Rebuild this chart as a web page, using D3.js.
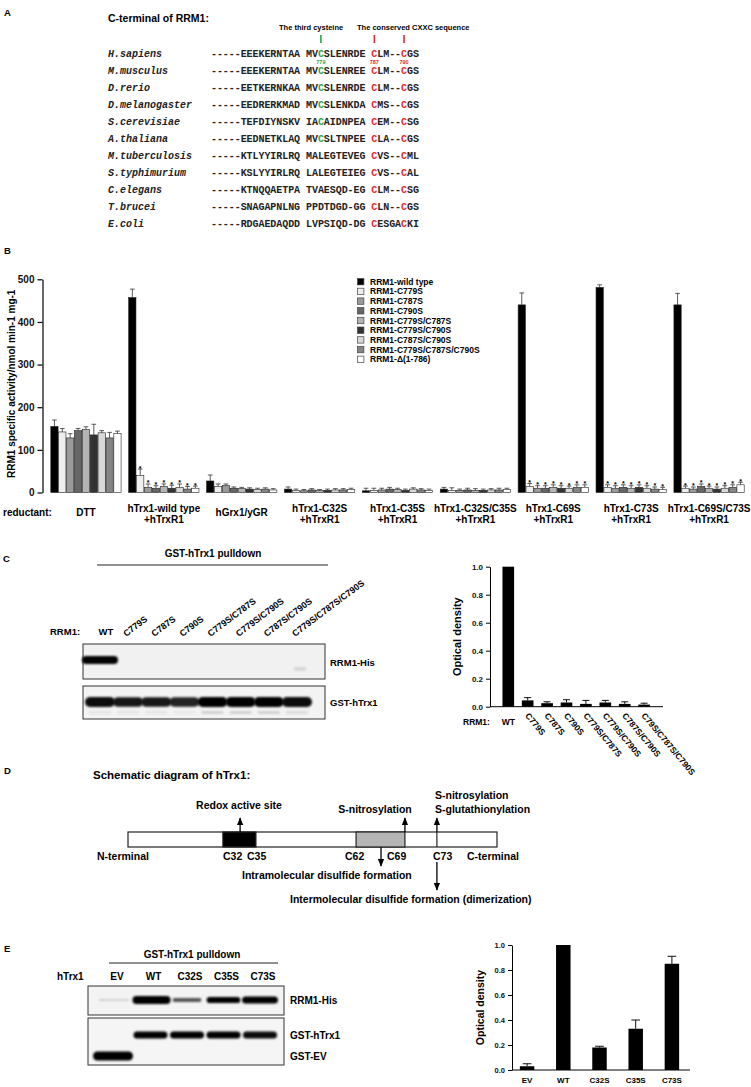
<!DOCTYPE html>
<html><head><meta charset="utf-8">
<script src="https://cdn.jsdelivr.net/npm/d3@7"></script>
<style>
body{margin:0;background:#fff;}
svg{display:block;font-family:"Liberation Sans",Arial,sans-serif;font-weight:bold;}
</style></head><body>
<svg id="fig" width="751" height="1087"></svg>
<script>
// ---------------- Panel A data ----------------
const species = ["H.sapiens","M.musculus","D.rerio","D.melanogaster","S.cerevisiae","A.thaliana","M.tuberculosis","S.typhimurium","C.elegans","T.brucei","E.coli"];
const sequences = [
 "-----EEEKERNTAA MVCSLENRDE CLM--CGS",
 "-----EEEKERNTAA MVCSLENREE CLM--CGS",
 "-----EETKERNKAA MVCSLENRDE CLM--CGS",
 "-----EEDRERKMAD MVCSLENKDA CMS--CGS",
 "-----TEFDIYNSKV IACAIDNPEA CEM--CSG",
 "-----EEDNETKLAQ MVCSLTNPEE CLA--CGS",
 "-----KTLYYIRLRQ MALEGTEVEG CVS--CML",
 "-----KSLYYIRLRQ LALEGTEIEG CVS--CAL",
 "-----KTNQQAETPA TVAESQD-EG CLM--CSG",
 "-----SNAGAPNLNG PPDTDGD-GG CLN--CGS",
 "-----RDGAEDAQDD LVPSIQD-DG CESGACKI"
];
const greenPos = [18];
const redPos = [27, 32];
const residueNums = [["779",18,"#2aa84a"],["787",27,"#e8262b"],["790",32,"#e8262b"]];

// ---------------- Panel B data ----------------
const reductants = [["DTT"],["hTrx1-wild type","+hTrxR1"],["hGrx1/yGR"],["hTrx1-C32S","+hTrxR1"],["hTrx1-C35S","+hTrxR1"],["hTrx1-C32S/C35S","+hTrxR1"],["hTrx1-C69S","+hTrxR1"],["hTrx1-C73S","+hTrxR1"],["hTrx1-C69S/C73S","+hTrxR1"]];
const rrm1Variants = ["RRM1-wild type","RRM1-C779S","RRM1-C787S","RRM1-C790S","RRM1-C779S/C787S","RRM1-C779S/C790S","RRM1-C787S/C790S","RRM1-C779S/C787S/C790S","RRM1-Δ(1-786)"];
const variantFill = ["#000000","#eeeeee","#9a9a9a","#666666","#b4b4b4","#333333","#d8d8d8","#858585","#ffffff"];
// rows = reductant, columns = RRM1 variant
const activityMean = [
 [155,142,128,145,148,135,140,128,138],
 [457,40,12,10,14,10,12,8,10],
 [27,14,16,10,9,8,7,8,6],
 [8,5,4,6,5,5,6,6,7],
 [4,5,6,8,7,5,8,6,5],
 [8,5,5,6,5,5,6,6,7],
 [440,14,10,10,12,10,10,12,12],
 [481,12,10,12,10,12,10,8,7],
 [440,10,8,14,10,8,10,12,18]
];
const activityErr = [
 [15,8,10,5,6,25,5,13,6],
 [20,15,8,6,6,7,8,6,5],
 [14,6,4,3,3,3,3,3,3],
 [5,3,3,3,2,3,3,3,3],
 [6,5,4,4,3,3,3,3,3],
 [4,6,3,4,4,3,3,4,3],
 [28,7,6,6,6,6,5,6,6],
 [6,6,6,6,6,6,6,5,5],
 [27,5,5,6,5,5,6,6,6]
];
const starredGroups = [1,6,7,8];
const activityTicks = [0,100,200,300,400,500];

// ---------------- Panel C data ----------------
const cLanes = ["WT","C779S","C787S","C790S","C779S/C787S","C779S/C790S","C787S/C790S","C779S/C787S/C790S"];
const cBarLabels = ["WT","C779S","C787S","C790S","C779S/C787S","C779S/C790S","C787S/C790S","C79S/C787S/C790S"];
const cRRM1Band = [1,0,0,0,0,0,0,0.12];
const cGSTBand = [0.95,0.9,0.9,0.85,1,1,1,0.95];
const cGSTLower = [0.15,0.15,0.15,0.1,0.35,0.35,0.35,0.25];
const cDensity = [1.0,0.045,0.025,0.03,0.02,0.03,0.02,0.015];
const cDensityErr = [0,0.02,0.01,0.02,0.025,0.015,0.015,0.01];
const densityTicks = [0,0.2,0.4,0.6,0.8,1.0];

// ---------------- Panel D data ----------------
const trxLength = 105;
const activeSite = [27,36.4];
const grayRegion = [64.9,78.8];
const c73Pos = 87.9;
const redoxArrowPos = 31.9;
const intraArrowPos = 72.0;

// ---------------- Panel E data ----------------
const eLanes = ["EV","WT","C32S","C35S","C73S"];
const eRRM1Band = [0.04,1,0.35,0.7,0.85];
const eGSTBand = [0,1,1,1,0.95];
const eEVBand = [1,0,0,0,0];
const eDensity = [0.03,1.0,0.18,0.33,0.85];
const eDensityErr = [0.02,0,0.01,0.07,0.06];

// =================================================
const svg = d3.select("#fig");
const defs = svg.append("defs");
defs.append("filter").attr("id","blur").attr("x","-30%").attr("y","-100%").attr("width","160%").attr("height","300%")
  .append("feGaussianBlur").attr("stdDeviation",0.8);
defs.append("marker").attr("id","arr").attr("viewBox","0 0 10 8").attr("refX",9).attr("refY",4)
  .attr("markerWidth",8).attr("markerHeight",7).attr("markerUnits","userSpaceOnUse").attr("orient","auto")
  .append("path").attr("d","M0,0 L10,4 L0,8 Z").attr("fill","#000");

// panel letters
[["A",4,16],["B",4,254],["C",3,562],["D",4,774],["E",4,952]].forEach(([t,x,y])=>
  svg.append("text").attr("x",x).attr("y",y).attr("font-size",9.5).text(t));

// ---------------- Panel A ----------------
const gA = svg.append("g");
gA.append("text").attr("x",108).attr("y",22).attr("font-size",10.5).text("C-terminal of RRM1:");
gA.append("text").attr("x",279).attr("y",29.5).attr("font-size",7.5).text("The third cysteine");
gA.append("text").attr("x",357).attr("y",29.5).attr("font-size",7.5).text("The conserved CXXC sequence");
const charW = 5.94;
const xSeq = d3.scaleLinear().domain([0,1]).range([211,211+charW]);
const rowY = d3.scaleLinear().domain([0,1]).range([56.8,73.8]);
gA.append("line").attr("x1",xSeq(18.5)).attr("x2",xSeq(18.5)).attr("y1",35).attr("y2",43).attr("stroke","#2aa84a").attr("stroke-width",1.6);
redPos.forEach(p=>gA.append("line").attr("x1",xSeq(p+0.5)).attr("x2",xSeq(p+0.5)).attr("y1",35).attr("y2",43).attr("stroke","#e8262b").attr("stroke-width",1.6));
const monoFont = "'Liberation Mono','Courier New',monospace";
species.forEach((sp,i)=>{
  gA.append("text").attr("x",108).attr("y",rowY(i)).attr("font-family",monoFont)
    .attr("font-style","italic").attr("font-size",10).attr("fill","#222").text(sp);
  const seq = sequences[i];
  gA.selectAll(null).data(seq.split("").map((c,j)=>({c,j}))).join("text")
    .attr("x",d=>xSeq(d.j+0.5)).attr("y",rowY(i)).attr("text-anchor","middle")
    .attr("font-family",monoFont).attr("font-size",10)
    .attr("fill",d=> d.c==="C" && redPos.includes(d.j) ? "#e8262b" : (d.c==="C" && greenPos.includes(d.j) ? "#2aa84a" : "#222"))
    .text(d=>d.c);
});
residueNums.forEach(([t,p,col])=>gA.append("text").attr("x",xSeq(p+0.5)).attr("y",63.5).attr("text-anchor","middle")
  .attr("font-size",5.5).attr("fill",col).text(t));

// ---------------- Panel B ----------------
const gB = svg.append("g");
const yB = d3.scaleLinear().domain([0,500]).range([492.5,279.3]);
const xB = d3.scaleBand().domain(d3.range(reductants.length)).range([47,748]).paddingInner(0.09).paddingOuter(0.045);
const xBi = d3.scaleBand().domain(d3.range(rrm1Variants.length)).range([0,xB.bandwidth()]);
const axB = gB.append("g").attr("transform","translate(42.5,0)")
  .call(d3.axisLeft(yB).tickValues(activityTicks).tickSize(5).tickSizeOuter(0).tickFormat(d3.format("d")));
axB.select(".domain").attr("stroke","#000").attr("stroke-width",1.2);
axB.selectAll(".tick line").attr("stroke","#000").attr("stroke-width",1.2);
axB.selectAll("text").attr("font-size",10).attr("font-family","'Liberation Sans',Arial,sans-serif").attr("font-weight","bold").attr("fill","#111");
gB.append("text").attr("transform","translate(15,"+yB(255)+") rotate(-90)").attr("text-anchor","middle").attr("font-size",10)
  .text("RRM1 specific activity/nmol min-1 mg-1");
const barData = [];
activityMean.forEach((row,g)=>row.forEach((v,s)=>barData.push({g,s,v,e:activityErr[g][s]})));
const gBars = gB.selectAll(null).data(barData).join("g")
  .attr("transform",d=>`translate(${xB(d.g)+xBi(d.s)},0)`);
const bw = xBi.bandwidth();
gBars.append("line").attr("x1",bw/2).attr("x2",bw/2).attr("y1",d=>yB(d.v)).attr("y2",d=>yB(d.v+d.e)).attr("stroke","#333").attr("stroke-width",0.8);
gBars.append("line").attr("x1",bw*0.2).attr("x2",bw*0.8).attr("y1",d=>yB(d.v+d.e)).attr("y2",d=>yB(d.v+d.e)).attr("stroke","#333").attr("stroke-width",0.8);
gBars.append("rect").attr("x",0.3).attr("width",bw-0.6).attr("y",d=>yB(d.v)).attr("height",d=>yB(0)-yB(d.v))
  .attr("fill",d=>variantFill[d.s]).attr("stroke","#222").attr("stroke-width",0.6);
gBars.filter(d=>starredGroups.includes(d.g) && d.s>0).append("text").attr("x",bw/2).attr("y",d=>yB(d.v+d.e)+1.5)
  .attr("text-anchor","middle").attr("font-size",7).text("*");
// legend
const lg = gB.append("g");
rrm1Variants.forEach((n,i)=>{
  const y = 281.7 + i*9.7;
  lg.append("rect").attr("x",357.5).attr("y",y-3.2).attr("width",6.4).attr("height",6.4).attr("fill",variantFill[i]).attr("stroke","#444").attr("stroke-width",0.7);
  lg.append("text").attr("x",370).attr("y",y+3).attr("font-size",8.5).text(n);
});
gB.append("text").attr("x",3).attr("y",515.5).attr("font-size",10).text("reductant:");
reductants.forEach((lines,g)=>{
  const cx = xB(g)+xB.bandwidth()/2;
  lines.forEach((t,k)=>gB.append("text").attr("x",cx).attr("y",(lines.length===1?515.5:511.5+k*11)).attr("text-anchor","middle").attr("font-size",10).text(t));
});

// ---------------- Panel C (blots) ----------------
const gC = svg.append("g");
function band(g,cx,cy,w,h,col,op){
  g.append("rect").attr("x",cx-w/2).attr("y",cy-h/2).attr("width",w).attr("height",h).attr("rx",h/2).attr("ry",h/2)
   .attr("fill",col).attr("opacity",op).attr("filter","url(#blur)");
}
gC.append("text").attr("x",213).attr("y",557).attr("text-anchor","middle").attr("font-size",10).text("GST-hTrx1 pulldown");
gC.append("line").attr("x1",97).attr("x2",328).attr("y1",565).attr("y2",565).attr("stroke","#222").attr("stroke-width",1);
const xCL = d3.scalePoint().domain(cLanes).range([100,297]);
gC.append("text").attr("x",50).attr("y",635).attr("font-size",9.5).text("RRM1:");
cLanes.forEach((l,i)=>{
  if(i===0) gC.append("text").attr("x",xCL(l)+6).attr("y",635).attr("text-anchor","middle").attr("font-size",9.5).text(l);
  else gC.append("text").attr("transform",`translate(${xCL(l)-2},637) rotate(-37)`).attr("font-size",9).text(l);
});
gC.append("rect").attr("x",83).attr("y",644).attr("width",242).attr("height",35).attr("fill","#f1f1f1").attr("stroke","#333").attr("stroke-width",1);
gC.append("rect").attr("x",83).attr("y",686).attr("width",242).attr("height",33).attr("fill","#f3f3f3").attr("stroke","#333").attr("stroke-width",1);
cLanes.forEach((l,i)=>{
  if(cRRM1Band[i]>0) band(gC,xCL(l)+(i===0?0:3),660+(i===0?0:9),36*Math.sqrt(cRRM1Band[i]),7*Math.sqrt(cRRM1Band[i])+1,"#000",cRRM1Band[i]);
  band(gC,xCL(l),702,30,6+4*cGSTBand[i],"#000",cGSTBand[i]);
  band(gC,xCL(l),712.5,22,2,"#666",cGSTLower[i]);
});
gC.append("text").attr("x",330).attr("y",666).attr("font-size",9.5).text("RRM1-His");
gC.append("text").attr("x",330).attr("y",706).attr("font-size",9.5).text("GST-hTrx1");

// ---------------- Panel C (chart) ----------------
const gC2 = svg.append("g");
const yC = d3.scaleLinear().domain([0,1]).range([706.7,566.7]);
const xC = d3.scaleBand().domain(cBarLabels).range([494.7,657.7]).padding(0.4);
const axC = gC2.append("g").attr("transform","translate(490,0)")
  .call(d3.axisLeft(yC).tickValues(densityTicks).tickSize(4).tickSizeOuter(0).tickFormat(d3.format(".1f")));
axC.selectAll(".domain,.tick line").attr("stroke","#000").attr("stroke-width",1);
axC.selectAll("text").attr("font-size",8).attr("font-family","'Liberation Sans',Arial,sans-serif").attr("font-weight","bold").attr("fill","#111");
gC2.append("line").attr("x1",490).attr("x2",663).attr("y1",yC(0)).attr("y2",yC(0)).attr("stroke","#000").attr("stroke-width",1);
gC2.append("text").attr("transform",`translate(461,${yC(0.5)}) rotate(-90)`).attr("text-anchor","middle").attr("font-size",11).text("Optical density");
const cbw = xC.bandwidth();
cBarLabels.forEach((l,i)=>{
  const x = xC(l);
  const v = cDensity[i], e = cDensityErr[i];
  if(e>0){
    gC2.append("line").attr("x1",x+cbw/2).attr("x2",x+cbw/2).attr("y1",yC(v)).attr("y2",yC(v+e)).attr("stroke","#111").attr("stroke-width",1);
    gC2.append("line").attr("x1",x+cbw*0.2).attr("x2",x+cbw*0.8).attr("y1",yC(v+e)).attr("y2",yC(v+e)).attr("stroke","#111").attr("stroke-width",1);
  }
  gC2.append("rect").attr("x",x).attr("y",yC(v)).attr("width",cbw).attr("height",yC(0)-yC(v)).attr("fill","#000");
  if(i===0) gC2.append("text").attr("x",x+cbw/2).attr("y",725).attr("text-anchor","middle").attr("font-size",8.5).text(l);
  else gC2.append("text").attr("transform",`translate(${x+cbw/2-3},716) rotate(50)`).attr("font-size",8.5).text(l);
});
gC2.append("text").attr("x",463).attr("y",725).attr("font-size",8.5).text("RRM1:");

// ---------------- Panel D ----------------
const gD = svg.append("g");
const xD = d3.scaleLinear().domain([0,trxLength]).range([128,497]);
gD.append("text").attr("x",93).attr("y",779).attr("font-size",11.5).text("Schematic diagram of hTrx1:");
gD.append("rect").attr("x",xD(0)).attr("y",832).attr("width",xD(trxLength)-xD(0)).attr("height",15).attr("fill","#fff").attr("stroke","#222").attr("stroke-width",1.2);
gD.append("rect").attr("x",xD(activeSite[0])).attr("y",832).attr("width",xD(activeSite[1])-xD(activeSite[0])).attr("height",15).attr("fill","#000").attr("stroke","#222").attr("stroke-width",1.2);
gD.append("rect").attr("x",xD(grayRegion[0])).attr("y",832).attr("width",xD(grayRegion[1])-xD(grayRegion[0])).attr("height",15).attr("fill","#b5b5b5").attr("stroke","#222").attr("stroke-width",1.2);
gD.append("line").attr("x1",xD(c73Pos)).attr("x2",xD(c73Pos)).attr("y1",832).attr("y2",847).attr("stroke","#222").attr("stroke-width",1.2);
function arrow(x,y1,y2){
  const dir = y2>y1 ? 1 : -1;
  gD.append("line").attr("x1",x).attr("x2",x).attr("y1",y1).attr("y2",y2-dir*1).attr("stroke","#000").attr("stroke-width",1.3).attr("marker-end","url(#arr)");
}
arrow(xD(redoxArrowPos),832,817);
arrow(xD(grayRegion[1]),832,817);
arrow(xD(c73Pos),832,817);
arrow(xD(intraArrowPos),847,867);
arrow(xD(c73Pos),862,891);
const dTxt = [
 ["Redox active site",239,809,"middle"],
 ["S-nitrosylation",375,813,"middle"],
 ["S-nitrosylation",435,799,"start"],
 ["S-glutathionylation",435,813,"start"],
 ["N-terminal",97,860,"start"],
 ["C32",223,860,"start"],
 ["C35",247,860,"start"],
 ["C62",345,860,"start"],
 ["C69",387,860,"start"],
 ["C73",433,860,"start"],
 ["C-terminal",467,860,"start"],
 ["Intramolecular disulfide formation",242,879,"start"],
 ["Intermolecular disulfide formation (dimerization)",290,903,"start"]
];
dTxt.forEach(([t,x,y,a])=>gD.append("text").attr("x",x).attr("y",y).attr("text-anchor",a).attr("font-size",10.5).text(t));

// ---------------- Panel E (blots) ----------------
const gE = svg.append("g");
gE.append("text").attr("x",192).attr("y",958).attr("text-anchor","middle").attr("font-size",10).text("GST-hTrx1 pulldown");
gE.append("line").attr("x1",109).attr("x2",278).attr("y1",963).attr("y2",963).attr("stroke","#222").attr("stroke-width",1);
const xEL = d3.scalePoint().domain(eLanes).range([117,263]);
gE.append("text").attr("x",57).attr("y",980).attr("font-size",10).text("hTrx1");
eLanes.forEach(l=>gE.append("text").attr("x",xEL(l)).attr("y",980).attr("text-anchor","middle").attr("font-size",10).text(l));
gE.append("rect").attr("x",88).attr("y",986).attr("width",196).attr("height",29).attr("fill","#f3f3f3").attr("stroke","#333").attr("stroke-width",1);
gE.append("rect").attr("x",88).attr("y",1018).attr("width",196).attr("height",47).attr("fill","#f5f5f5").attr("stroke","#333").attr("stroke-width",1);
eLanes.forEach((l,i)=>{
  const r = eRRM1Band[i];
  if(i===0) band(gE,xEL(l)-3,1000,30,2,"#333",0.18);
  else band(gE,xEL(l)-(i===1?2:3),1000,24+14*r,2+6*r,"#000",Math.min(1,0.3+r));
  if(eGSTBand[i]>0) band(gE,xEL(l)-3,1035,34,7,"#000",eGSTBand[i]);
  if(eEVBand[i]>0) band(gE,xEL(l)-4,1056,40,9,"#000",eEVBand[i]);
});
gE.append("text").attr("x",290).attr("y",1004).attr("font-size",10).text("RRM1-His");
gE.append("text").attr("x",290).attr("y",1039).attr("font-size",10).text("GST-hTrx1");
gE.append("text").attr("x",290).attr("y",1060).attr("font-size",10).text("GST-EV");

// ---------------- Panel E (chart) ----------------
const gE2 = svg.append("g");
const yE = d3.scaleLinear().domain([0,1]).range([1070,945]);
const xE = d3.scaleBand().domain(eLanes).range([509,690]).paddingInner(0.6).paddingOuter(0.3);
const axE = gE2.append("g").attr("transform","translate(512,0)")
  .call(d3.axisLeft(yE).tickValues(densityTicks).tickSize(4).tickSizeOuter(0).tickFormat(d3.format(".1f")));
axE.selectAll(".domain,.tick line").attr("stroke","#000").attr("stroke-width",1);
axE.selectAll("text").attr("font-size",7.5).attr("font-family","'Liberation Sans',Arial,sans-serif").attr("font-weight","bold").attr("fill","#111");
gE2.append("line").attr("x1",512).attr("x2",690).attr("y1",yE(0)).attr("y2",yE(0)).attr("stroke","#000").attr("stroke-width",1);
gE2.append("text").attr("transform",`translate(484,${yE(0.5)}) rotate(-90)`).attr("text-anchor","middle").attr("font-size",10.5).text("Optical density");
const ebw = xE.bandwidth();
eLanes.forEach((l,i)=>{
  const x = xE(l), v = eDensity[i], e = eDensityErr[i];
  if(e>0){
    gE2.append("line").attr("x1",x+ebw/2).attr("x2",x+ebw/2).attr("y1",yE(v)).attr("y2",yE(v+e)).attr("stroke","#111").attr("stroke-width",1);
    gE2.append("line").attr("x1",x+ebw*0.2).attr("x2",x+ebw*0.8).attr("y1",yE(v+e)).attr("y2",yE(v+e)).attr("stroke","#111").attr("stroke-width",1);
  }
  gE2.append("rect").attr("x",x).attr("y",yE(v)).attr("width",ebw).attr("height",yE(0)-yE(v)).attr("fill","#000");
  gE2.append("text").attr("x",x+ebw/2).attr("y",1083).attr("text-anchor","middle").attr("font-size",8).text(l);
});
</script>
</body></html>
